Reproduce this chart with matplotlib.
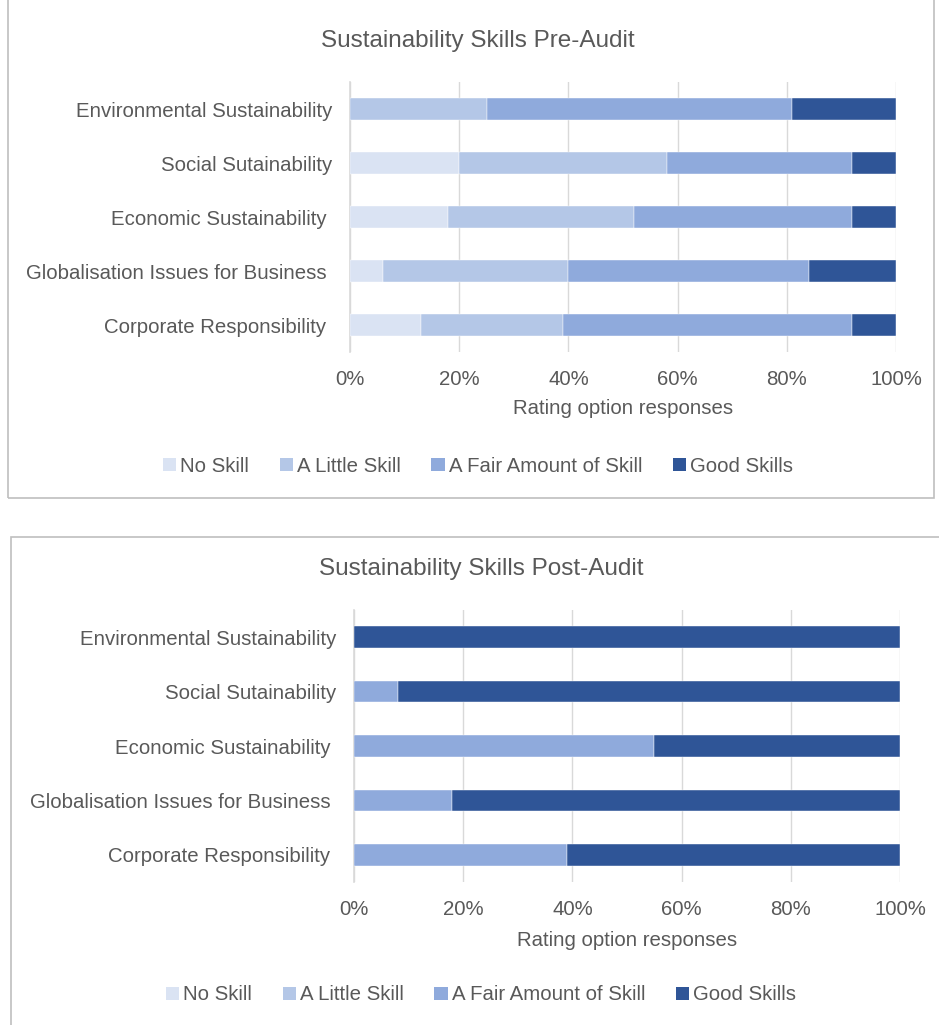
import matplotlib
matplotlib.use("Agg")
import matplotlib.pyplot as plt
from matplotlib.patches import Patch, Rectangle
from matplotlib.ticker import PercentFormatter
import numpy as np

plt.rcParams['font.family'] = ['Liberation Sans', 'DejaVu Sans']

# data (percent of responses)
# (some labels carry a trailing space in the source sheet)
categories = ["Environmental Sustainability", "Social Sutainability", "Economic Sustainability ",
              "Globalisation Issues for Business ", "Corporate Responsibility "]
levels = ["No Skill", "A Little Skill", "A Fair Amount of Skill", "Good Skills"]

pre_no_skill = [0, 20, 18, 6, 13]
pre_little = [25, 38, 34, 34, 26]
pre_fair = [56, 34, 40, 44, 53]
pre_good = [19, 8, 8, 16, 8]

post_no_skill = [0, 0, 0, 0, 0]
post_little = [0, 0, 0, 0, 0]
post_fair = [0, 8, 55, 18, 39]
post_good = [100, 92, 45, 82, 61]

colors = ["#DAE3F3", "#B4C7E7", "#8FAADC", "#2F5597"]
TEXT = "#595959"
GRID = "#D9D9D9"
FS = 14.7

W, H = 939, 1025
fig = plt.figure(figsize=(W / 100, H / 100), dpi=100)


def px(x0, y0, x1, y1):
    # pixel box (top-left origin) -> figure fraction rect
    return [x0 / W, 1 - y1 / H, (x1 - x0) / W, (y1 - y0) / H]


def draw_panel(box, plot, title, title_xy, xlabel_y, legend_xy, series):
    x0, y0, x1, y1 = box
    fig.add_artist(Rectangle((x0 / W, 1 - y1 / H), (x1 - x0) / W, (y1 - y0) / H,
                             transform=fig.transFigure, fill=False,
                             edgecolor="#BFBFBF", linewidth=1.2))
    ax = fig.add_axes(px(*plot))
    y = np.arange(len(categories))
    left = np.zeros(len(categories))
    for vals, col in zip(series, colors):
        vals = np.array(vals, dtype=float)
        ax.barh(y, vals, left=left, height=0.4, color=col, edgecolor="white",
                linewidth=0.3, zorder=3)
        left += vals
    ax.set_xlim(0, 100)
    ax.set_ylim(len(categories) - 0.5, -0.5)
    ax.set_yticks(y)
    ax.set_yticklabels(categories, fontsize=FS, color=TEXT)
    ax.set_xticks(np.arange(0, 101, 20))
    ax.xaxis.set_major_formatter(PercentFormatter(decimals=0))
    ax.tick_params(axis="x", labelsize=FS, colors=TEXT, length=0, pad=13)
    ax.tick_params(axis="y", length=0, pad=13)
    ax.grid(axis="x", color=GRID, linewidth=1, zorder=0)
    for s in ["top", "right", "bottom"]:
        ax.spines[s].set_visible(False)
    ax.spines["left"].set_color(GRID)
    ax.spines["left"].set_linewidth(1.2)
    fig.text(title_xy[0] / W, 1 - title_xy[1] / H, title, ha="center", va="center",
             fontsize=17.5, color=TEXT)
    fig.text((plot[0] + plot[2]) / 2 / W, 1 - xlabel_y / H, "Rating option responses",
             ha="center", va="center", fontsize=FS, color=TEXT)
    handles = [Patch(facecolor=c, edgecolor="none") for c in colors]
    fig.legend(handles, levels, loc="center", ncol=4,
               bbox_to_anchor=(legend_xy[0] / W, 1 - legend_xy[1] / H),
               frameon=False, fontsize=FS, labelcolor=TEXT,
               handlelength=0.65, handleheight=0.65, handletextpad=0.2,
               columnspacing=1.5)
    return ax


draw_panel((8, -2, 934, 498), (350, 82, 896, 352), "Sustainability Skills Pre-Audit",
           (478, 41), 408, (478, 466),
           [pre_no_skill, pre_little, pre_fair, pre_good])
draw_panel((11, 537, 945, 1030), (354, 610, 900, 882), "Sustainability Skills Post-Audit",
           (481, 569), 941, (481, 995),
           [post_no_skill, post_little, post_fair, post_good])

fig.savefig("out.png", dpi=100)
